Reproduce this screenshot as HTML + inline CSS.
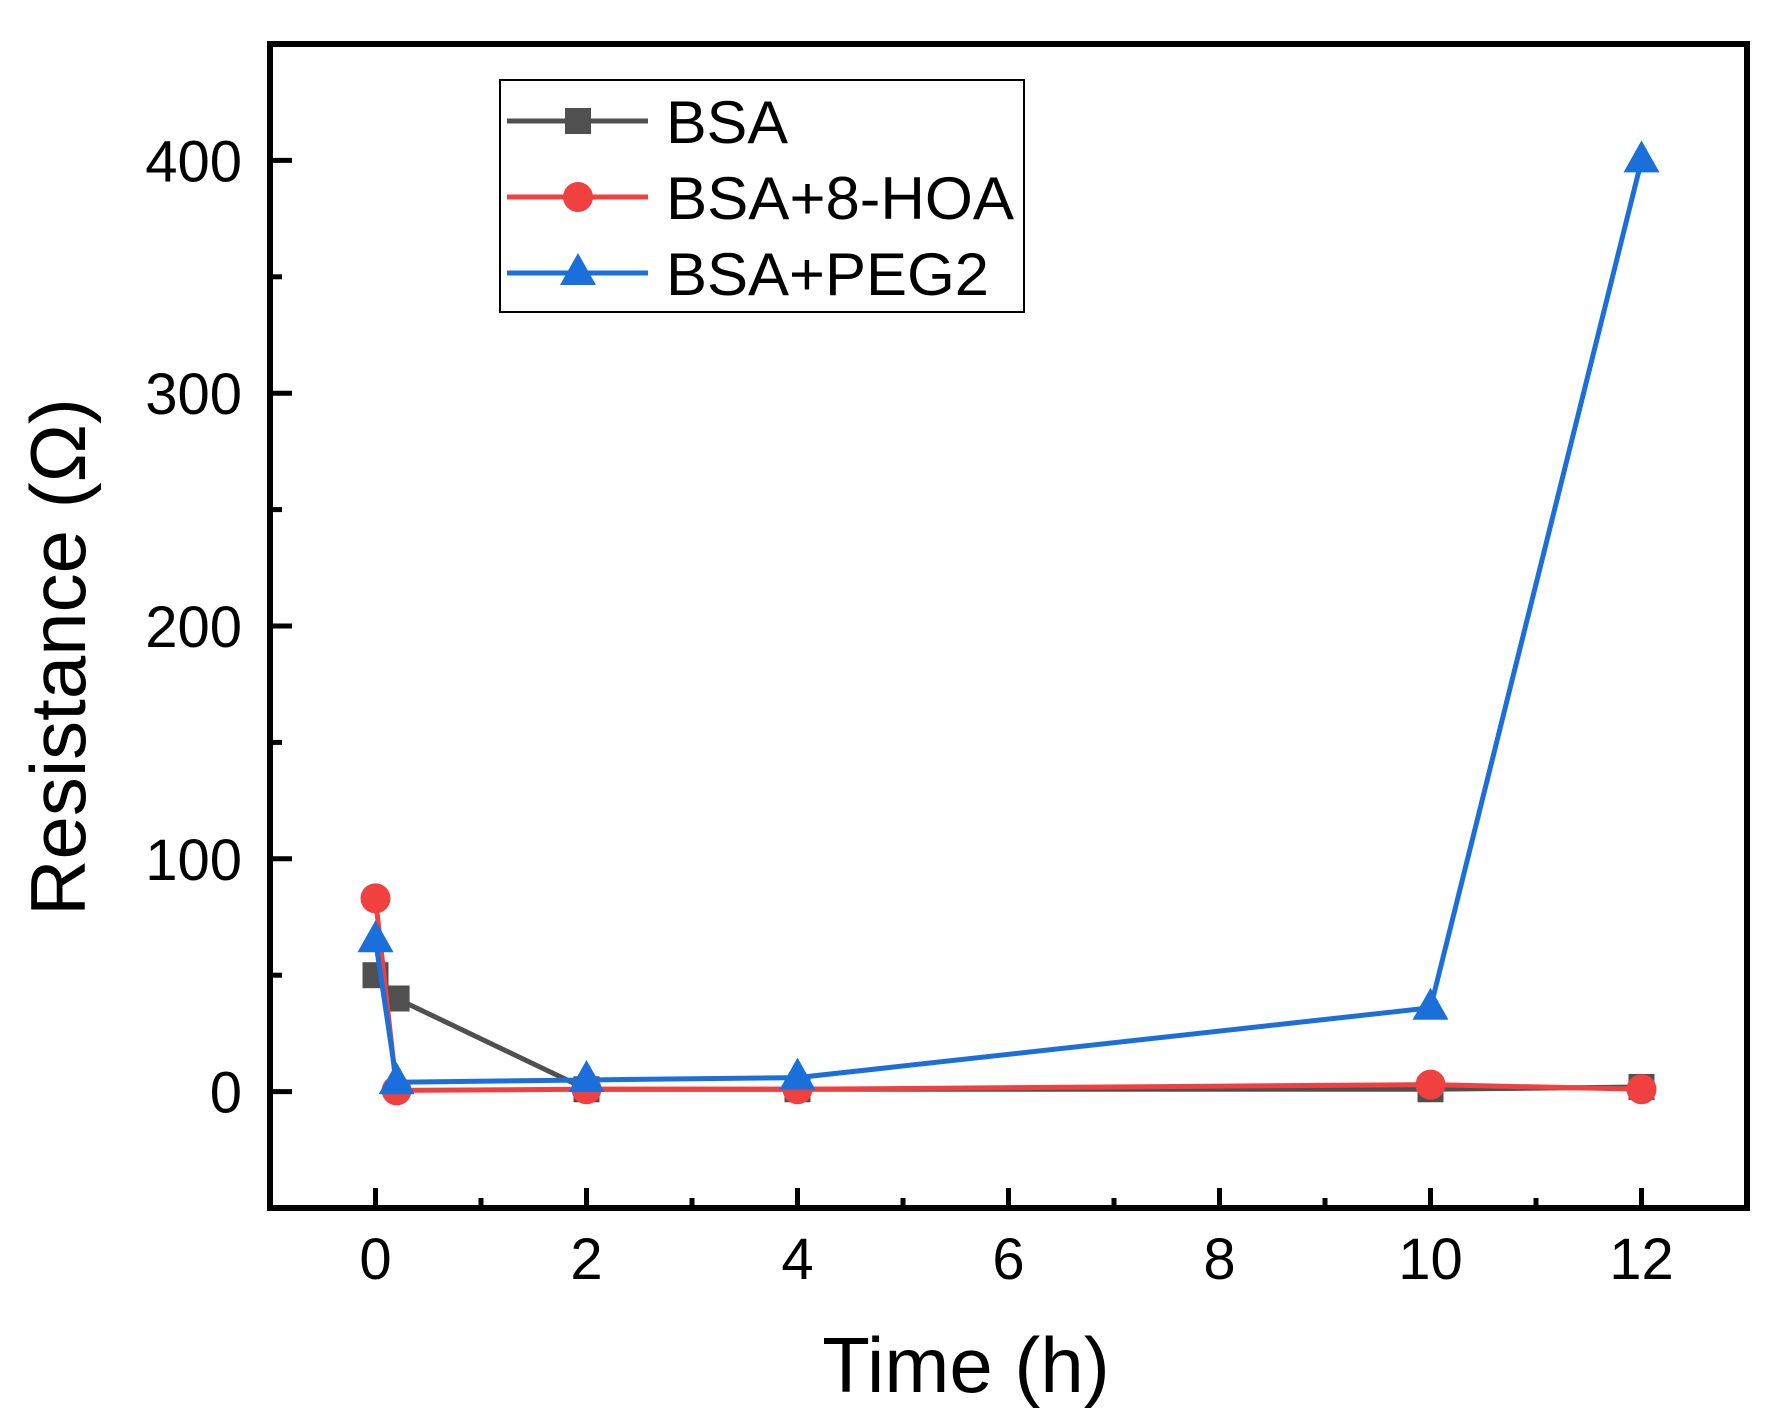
<!DOCTYPE html>
<html><head><meta charset="utf-8"><style>
html,body{margin:0;padding:0;background:#fff;}
svg{display:block;font-family:"Liberation Sans",Arial,sans-serif;}
</style></head><body>
<svg id="chart" width="1784" height="1419" viewBox="0 0 1784 1419">
<g id="plot"></g>
</svg>
<script>
const categories = [0, 0.2, 2, 4, 10, 12];
const bsaValues = [50, 40, 1, 1, 1, 2];
const hoaValues = [83, 0.5, 1, 1, 3, 1];
const pegValues = [65, 4, 5, 6, 36, 400];
const xTickLabels = [0, 2, 4, 6, 8, 10, 12];
const yTickLabels = [0, 100, 200, 300, 400];

const NS = "http://www.w3.org/2000/svg";
const L = 270, R = 1747, T = 44, B = 1208;
const xMin = -1, xMax = 13, yMin = -50, yMax = 450;
const xs = v => L + (v - xMin) / (xMax - xMin) * (R - L);
const ys = v => B - (v - yMin) / (yMax - yMin) * (B - T);
const g = document.getElementById('plot');
function mk(tag, attrs, parent) {
  const e = document.createElementNS(NS, tag);
  for (const k in attrs) e.setAttribute(k, attrs[k]);
  (parent || g).appendChild(e);
  return e;
}

// ticks (inward)
for (let v = -1; v <= 13; v++) {
  const major = v % 2 === 0;
  const t = mk('line', {x1: xs(v), x2: xs(v), y1: B, y2: B - (major ? 20 : 10), stroke: '#000', 'stroke-width': 5});
  
  
}
xTickLabels.forEach(v => {
  const t = mk('text', {x: xs(v), y: 1279, 'font-size': 58, 'text-anchor': 'middle'});
  t.textContent = v;
  
  
});
for (let v = -50; v <= 450; v += 50) {
  const major = v % 100 === 0;
  const t = mk('line', {x1: L, x2: L + (major ? 22 : 12), y1: ys(v), y2: ys(v), stroke: '#000', 'stroke-width': 5});
  
  
}
yTickLabels.forEach(v => {
  const t = mk('text', {x: 242, y: ys(v) + 21, 'font-size': 58, 'text-anchor': 'end'});
  t.textContent = v;
  
  
});

// series
function drawSeries(vals, color, shape, name) {
  const grp = mk('g', {});
  
  
  const pts = categories.map((c, i) => xs(c) + ',' + ys(vals[i])).join(' ');
  const pl = mk('polyline', {points: pts, fill: 'none', stroke: color, 'stroke-width': 5, 'stroke-linejoin': 'round'}, grp);
  
  
  categories.forEach((c, i) => {
    const m = marker(grp, xs(c), ys(vals[i]), color, shape);
    
    
  });
}
function marker(parent, x, y, color, shape) {
  if (shape === 'square') return mk('rect', {x: x - 13, y: y - 13, width: 26, height: 26, fill: color}, parent);
  if (shape === 'circle') return mk('circle', {cx: x, cy: y, r: 15, fill: color}, parent);
  return mk('polygon', {points: `${x},${y-20} ${x-18},${y+12} ${x+18},${y+12}`, fill: color}, parent);
}
drawSeries(bsaValues, '#505050', 'square', 'bsa');
drawSeries(hoaValues, '#f04040', 'circle', 'bsa-8hoa');
drawSeries(pegValues, '#1a6fdb', 'triangle', 'bsa-peg2');

// frame
const fr = mk('rect', {x: L, y: T, width: R - L, height: B - T, fill: 'none', stroke: '#000', 'stroke-width': 6});



// legend
const lg = mk('g', {});


const lb = mk('rect', {x: 500, y: 80, width: 524, height: 232, fill: '#fff', stroke: '#000', 'stroke-width': 2}, lg);


const entries = [['BSA', '#505050', 'square'], ['BSA+8-HOA', '#f04040', 'circle'], ['BSA+PEG2', '#1a6fdb', 'triangle']];
entries.forEach((e, i) => {
  const y = 121 + i * 76;
  const eg = mk('g', {}, lg);
  
  
  mk('line', {x1: 507, x2: 648, y1: y, y2: y, stroke: e[1], 'stroke-width': 5}, eg);
  marker(eg, 578, y, e[1], e[2]);
  const t = mk('text', {x: 666, y: y + 22, 'font-size': 60, textLength: e[0] === 'BSA' ? 122 : (e[0] === 'BSA+8-HOA' ? 348 : 323), lengthAdjust: 'spacingAndGlyphs'}, eg);
  t.textContent = e[0];
});

// axis titles
const xt = mk('text', {x: 966, y: 1392, 'font-size': 78, 'text-anchor': 'middle'});
xt.textContent = 'Time (h)';


const yt = mk('text', {x: 0, y: 0, 'font-size': 78, 'text-anchor': 'middle', transform: 'translate(85,657) rotate(-90)'});
yt.textContent = 'Resistance (Ω)';


</script>
</body></html>
